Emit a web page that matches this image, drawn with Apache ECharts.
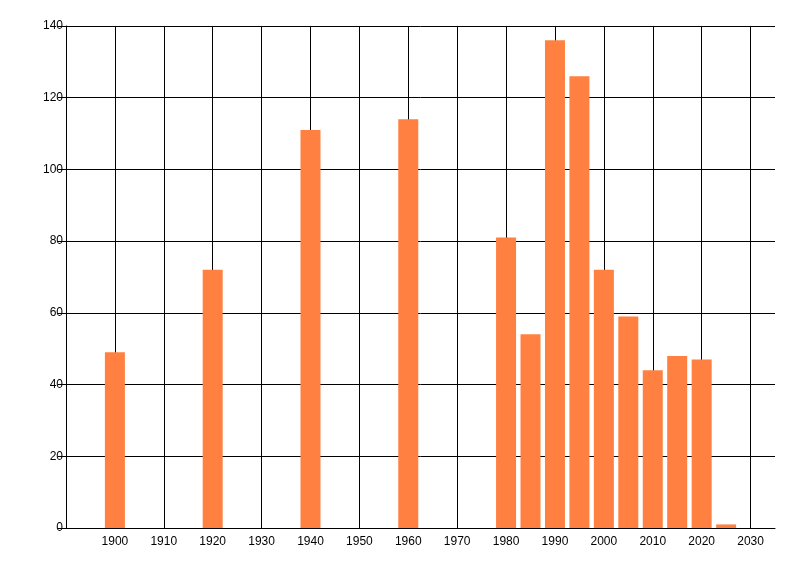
<!DOCTYPE html>
<html>
<head>
<meta charset="utf-8">
<style>
  html, body { margin: 0; padding: 0; background: #fff; }
  #chart { width: 800px; height: 576px; }
</style>
<script src="https://cdn.jsdelivr.net/npm/echarts@6/dist/echarts.min.js"></script>
</head>
<body>
<div id="chart"></div>
<script>
// 数据
var years = [1900, 1920, 1940, 1960, 1980, 1985, 1990, 1995, 2000, 2005, 2010, 2015, 2020, 2025];
var counts = [49, 72, 111, 114, 81, 54, 136, 126, 72, 59, 44, 48, 47, 1];
var xTicks = [1900, 1910, 1920, 1930, 1940, 1950, 1960, 1970, 1980, 1990, 2000, 2010, 2020, 2030];

var chart = echarts.init(document.getElementById("chart"));
chart.setOption({
  animation: false,
  grid: {
    left: 66,
    right: 25,
    top: 26,
    bottom: 48
  },
  xAxis: {
    type: "value",
    min: 1890,
    max: 2035,
    interval: 10,
    axisLine: {
      show: true,
      onZero: false,
      lineStyle: { color: "#000", width: 1 }
    },
    axisTick: { show: false },
    axisLabel: {
      color: "#000",
      fontFamily: "Liberation Sans",
      fontSize: 12,
      margin: 8,
      showMinLabel: true,
      showMaxLabel: true,
      formatter: function (v) {
        return xTicks.indexOf(v) >= 0 ? String(v) : "";
      }
    },
    splitLine: {
      show: true,
      showMinLine: false,
      showMaxLine: false,
      lineStyle: { color: "#000", width: 1 }
    }
  },
  yAxis: {
    type: "value",
    min: 0,
    max: 140,
    interval: 20,
    axisLine: {
      show: true,
      lineStyle: { color: "#000", width: 1 }
    },
    axisTick: {
      show: true,
      length: 8,
      lineStyle: { color: "#000" }
    },
    axisLabel: {
      color: "#000",
      fontFamily: "Liberation Sans",
      fontSize: 12,
      margin: 3
    },
    splitLine: {
      show: true,
      lineStyle: { color: "#000", width: 1 }
    }
  },
  series: [{
    type: "bar",
    barWidth: 20,
    itemStyle: { color: "#ff8040" },
    data: years.map(function (y, i) { return [y, counts[i]]; })
  }]
});
</script>
</body>
</html>
